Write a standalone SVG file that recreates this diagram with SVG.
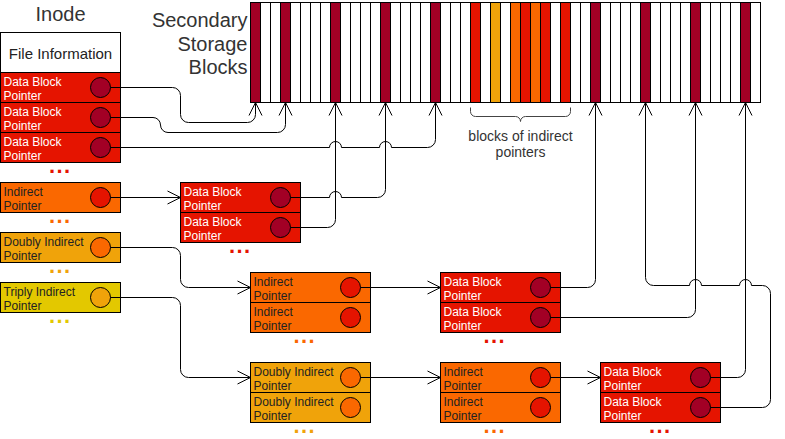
<svg xmlns="http://www.w3.org/2000/svg" width="785" height="439" viewBox="0 0 785 439">
<defs>
<style>
text{font-family:"Liberation Sans",Arial,Helvetica,sans-serif}
.title{font-size:20px;fill:#333}
.lbl{font-size:12px}
.w{fill:#fff}
.d{fill:#222}
.box{stroke:#000;stroke-width:1}
.db{fill:#e51400}
.ind{fill:#fa6800}
.dbl{fill:#f0a30a}
.tri{fill:#e3c800}
.cdb{fill:#a20025;stroke:#000}
.cind{fill:#e51400;stroke:#000}
.cdbl{fill:#fa6800;stroke:#000}
.ctri{fill:#f0a30a;stroke:#000}
.dots{font-size:22px;font-weight:bold;letter-spacing:1.4px}
.edge{fill:none;stroke:#000;stroke-width:1}
.cell{stroke:#000;stroke-width:1}
</style>
<marker id="arr" markerUnits="userSpaceOnUse" markerWidth="16" markerHeight="16" viewBox="0 0 16 16" refX="14" refY="7" orient="auto" overflow="visible">
<path d="M1,0.5 L14,7 L1,13.5" fill="none" stroke="#000" stroke-width="1"/>
</marker>
</defs>
<rect x="0" y="0" width="785" height="439" fill="#fff"/>
<g transform="translate(0.5,0.5)">
<text class="title" x="60" y="20" text-anchor="middle">Inode</text>
<g class="title" text-anchor="end">
<text class="title" x="247" y="26.5">Secondary</text>
<text class="title" x="247" y="50">Storage</text>
<text class="title" x="247" y="73.5">Blocks</text>
</g>

<g id="storage">
<rect x="250" y="2" width="510" height="100" fill="#fff" class="cell"/>
<g fill="#fff" class="cell">
<rect x="250" y="2" width="10" height="100" fill="#a20025"/>
<rect x="260" y="2" width="10" height="100"/>
<rect x="270" y="2" width="10" height="100"/>
<rect x="280" y="2" width="10" height="100" fill="#a20025"/>
<rect x="290" y="2" width="10" height="100"/>
<rect x="300" y="2" width="10" height="100"/>
<rect x="310" y="2" width="10" height="100"/>
<rect x="320" y="2" width="10" height="100"/>
<rect x="330" y="2" width="10" height="100" fill="#a20025"/>
<rect x="340" y="2" width="10" height="100"/>
<rect x="350" y="2" width="10" height="100"/>
<rect x="360" y="2" width="10" height="100"/>
<rect x="370" y="2" width="10" height="100"/>
<rect x="380" y="2" width="10" height="100" fill="#a20025"/>
<rect x="390" y="2" width="10" height="100"/>
<rect x="400" y="2" width="10" height="100"/>
<rect x="410" y="2" width="10" height="100"/>
<rect x="420" y="2" width="10" height="100"/>
<rect x="430" y="2" width="10" height="100" fill="#a20025"/>
<rect x="440" y="2" width="10" height="100"/>
<rect x="450" y="2" width="10" height="100"/>
<rect x="460" y="2" width="10" height="100"/>
<rect x="470" y="2" width="10" height="100" fill="#e51400"/>
<rect x="480" y="2" width="10" height="100"/>
<rect x="490" y="2" width="10" height="100" fill="#f0a30a"/>
<rect x="500" y="2" width="10" height="100"/>
<rect x="510" y="2" width="10" height="100" fill="#fa6800"/>
<rect x="520" y="2" width="10" height="100" fill="#e51400"/>
<rect x="530" y="2" width="10" height="100" fill="#fa6800"/>
<rect x="540" y="2" width="10" height="100" fill="#e51400"/>
<rect x="550" y="2" width="10" height="100"/>
<rect x="560" y="2" width="10" height="100" fill="#e51400"/>
<rect x="570" y="2" width="10" height="100"/>
<rect x="580" y="2" width="10" height="100"/>
<rect x="590" y="2" width="10" height="100" fill="#a20025"/>
<rect x="600" y="2" width="10" height="100"/>
<rect x="610" y="2" width="10" height="100"/>
<rect x="620" y="2" width="10" height="100"/>
<rect x="630" y="2" width="10" height="100"/>
<rect x="640" y="2" width="10" height="100" fill="#a20025"/>
<rect x="650" y="2" width="10" height="100"/>
<rect x="660" y="2" width="10" height="100"/>
<rect x="670" y="2" width="10" height="100"/>
<rect x="680" y="2" width="10" height="100"/>
<rect x="690" y="2" width="10" height="100" fill="#a20025"/>
<rect x="700" y="2" width="10" height="100"/>
<rect x="710" y="2" width="10" height="100"/>
<rect x="720" y="2" width="10" height="100"/>
<rect x="730" y="2" width="10" height="100"/>
<rect x="740" y="2" width="10" height="100" fill="#a20025"/>
<rect x="750" y="2" width="10" height="100"/>
</g>
</g>

<g id="brace">
<path d="M470,107 V111 A5,5 0 0 0 475,116 H515 A5,5 0 0 1 520,121 A5,5 0 0 1 525,116 H565 A5,5 0 0 0 570,111 V107" fill="none" stroke="#444" stroke-width="1"/>
<text x="520" y="140" text-anchor="middle" font-size="14" fill="#333">blocks of indirect</text>
<text x="520" y="156.5" text-anchor="middle" font-size="14" fill="#333">pointers</text>
</g>

<g id="inode">
<rect x="0" y="32" width="120" height="40" fill="#fff" class="box"/>
<text x="60" y="58" text-anchor="middle" font-size="15" fill="#222">File Information</text>
<rect x="0" y="72" width="120" height="30" class="box db"/>
<rect x="0" y="102" width="120" height="30" class="box db"/>
<rect x="0" y="132" width="120" height="30" class="box db"/>
<circle cx="100" cy="87" r="10" class="cdb"/>
<circle cx="100" cy="117" r="10" class="cdb"/>
<circle cx="100" cy="147" r="10" class="cdb"/>
<g class="lbl w">
<text x="3" y="85">Data Block</text><text x="3" y="99">Pointer</text>
<text x="3" y="115">Data Block</text><text x="3" y="129">Pointer</text>
<text x="3" y="145">Data Block</text><text x="3" y="159">Pointer</text>
</g>
<text class="dots" x="48.5" y="172" fill="#e51400">...</text>
</g>

<g id="inode-indirect">
<rect x="0" y="182" width="120" height="30" class="box ind"/>
<circle cx="100" cy="197" r="10" class="cind"/>
<text class="lbl d" x="3" y="195">Indirect</text><text class="lbl d" x="3" y="209">Pointer</text>
<text class="dots" x="48.5" y="222" fill="#fa6800">...</text>
</g>

<g id="inode-doubly">
<rect x="0" y="232" width="120" height="30" class="box dbl"/>
<circle cx="100" cy="247" r="10" class="cdbl"/>
<text class="lbl d" x="3" y="245">Doubly Indirect</text><text class="lbl d" x="3" y="259">Pointer</text>
<text class="dots" x="48.5" y="272" fill="#f0a30a">...</text>
</g>

<g id="inode-triply">
<rect x="0" y="282" width="120" height="30" class="box tri"/>
<circle cx="100" cy="297" r="10" class="ctri"/>
<text class="lbl d" x="3" y="295">Triply Indirect</text><text class="lbl d" x="3" y="309">Pointer</text>
<text class="dots" x="48.5" y="322" fill="#e3c800">...</text>
</g>

<g id="l1-data">
<rect x="180" y="182" width="120" height="30" class="box db"/>
<rect x="180" y="212" width="120" height="30" class="box db"/>
<circle cx="280" cy="197" r="10" class="cdb"/>
<circle cx="280" cy="227" r="10" class="cdb"/>
<text class="lbl w" x="183" y="195">Data Block</text><text class="lbl w" x="183" y="209">Pointer</text>
<text class="lbl w" x="183" y="225">Data Block</text><text class="lbl w" x="183" y="239">Pointer</text>
<text class="dots" x="228.5" y="252" fill="#e51400">...</text>
</g>

<g id="l1-indirect">
<rect x="250" y="272" width="120" height="30" class="box ind"/>
<rect x="250" y="302" width="120" height="30" class="box ind"/>
<circle cx="350" cy="287" r="10" class="cind"/>
<circle cx="350" cy="317" r="10" class="cind"/>
<text class="lbl d" x="253" y="285">Indirect</text><text class="lbl d" x="253" y="299">Pointer</text>
<text class="lbl d" x="253" y="315">Indirect</text><text class="lbl d" x="253" y="329">Pointer</text>
<text class="dots" x="293" y="342" fill="#fa6800">...</text>
</g>

<g id="l1-doubly">
<rect x="250" y="362" width="120" height="30" class="box dbl"/>
<rect x="250" y="392" width="120" height="30" class="box dbl"/>
<circle cx="350" cy="377" r="10" class="cdbl"/>
<circle cx="350" cy="407" r="10" class="cdbl"/>
<text class="lbl d" x="253" y="375">Doubly Indirect</text><text class="lbl d" x="253" y="389">Pointer</text>
<text class="lbl d" x="253" y="405">Doubly Indirect</text><text class="lbl d" x="253" y="419">Pointer</text>
<text class="dots" x="293" y="432" fill="#f0a30a">...</text>
</g>

<g id="l2-data">
<rect x="440" y="272" width="120" height="30" class="box db"/>
<rect x="440" y="302" width="120" height="30" class="box db"/>
<circle cx="540" cy="287" r="10" class="cdb"/>
<circle cx="540" cy="317" r="10" class="cdb"/>
<text class="lbl w" x="443" y="285">Data Block</text><text class="lbl w" x="443" y="299">Pointer</text>
<text class="lbl w" x="443" y="315">Data Block</text><text class="lbl w" x="443" y="329">Pointer</text>
<text class="dots" x="483" y="342" fill="#e51400">...</text>
</g>

<g id="l2-indirect">
<rect x="440" y="362" width="120" height="30" class="box ind"/>
<rect x="440" y="392" width="120" height="30" class="box ind"/>
<circle cx="540" cy="377" r="10" class="cind"/>
<circle cx="540" cy="407" r="10" class="cind"/>
<text class="lbl d" x="443" y="375">Indirect</text><text class="lbl d" x="443" y="389">Pointer</text>
<text class="lbl d" x="443" y="405">Indirect</text><text class="lbl d" x="443" y="419">Pointer</text>
<text class="dots" x="483" y="432" fill="#fa6800">...</text>
</g>

<g id="l3-data">
<rect x="600" y="362" width="120" height="30" class="box db"/>
<rect x="600" y="392" width="120" height="30" class="box db"/>
<circle cx="700" cy="377" r="10" class="cdb"/>
<circle cx="700" cy="407" r="10" class="cdb"/>
<text class="lbl w" x="603" y="375">Data Block</text><text class="lbl w" x="603" y="389">Pointer</text>
<text class="lbl w" x="603" y="405">Data Block</text><text class="lbl w" x="603" y="419">Pointer</text>
<text class="dots" x="648.5" y="432" fill="#e51400">...</text>
</g>

<g id="connectors" class="edge" marker-end="url(#arr)">
<path class="edge" marker-end="url(#arr)" d="M110,87 H172 A8,8 0 0 1 180,95 V114 A8,8 0 0 0 188,122 H247 A8,8 0 0 0 255,114 V102"/>
<path class="edge" marker-end="url(#arr)" d="M110,117 H152.5 A7.5,7.5 0 0 1 160,124.5 A7.5,7.5 0 0 0 167.5,132 H277 A8,8 0 0 0 285,124 V102"/>
<path class="edge" marker-end="url(#arr)" d="M110,147 H329 A6,6 0 0 1 341,147 H379 A6,6 0 0 1 391,147 H427 A8,8 0 0 0 435,139 V102"/>
<path class="edge" marker-end="url(#arr)" d="M290,197 H329 A6,6 0 0 1 341,197 H377 A8,8 0 0 0 385,189 V102"/>
<path class="edge" marker-end="url(#arr)" d="M290,227 H327 A8,8 0 0 0 335,219 V102"/>
<path class="edge" marker-end="url(#arr)" d="M550,287 H587 A8,8 0 0 0 595,279 V102"/>
<path class="edge" marker-end="url(#arr)" d="M550,317 H687 A8,8 0 0 0 695,309 V102"/>
<path class="edge" marker-end="url(#arr)" d="M710,377 H737 A8,8 0 0 0 745,369 V102"/>
<path class="edge" marker-end="url(#arr)" d="M710,407 H762 A8,8 0 0 0 770,399 V293 A8,8 0 0 0 762,285 H751 A6,6 0 0 0 739,285 H701 A6,6 0 0 0 689,285 H653 A8,8 0 0 1 645,277 V102"/>
<path class="edge" marker-end="url(#arr)" d="M110,197 H180"/>
<path class="edge" marker-end="url(#arr)" d="M110,247 H172 A8,8 0 0 1 180,255 V279 A8,8 0 0 0 188,287 H250"/>
<path class="edge" marker-end="url(#arr)" d="M110,297 H172 A8,8 0 0 1 180,305 V369 A8,8 0 0 0 188,377 H250"/>
<path class="edge" marker-end="url(#arr)" d="M360,287 H440"/>
<path class="edge" marker-end="url(#arr)" d="M360,377 H440"/>
<path class="edge" marker-end="url(#arr)" d="M550,377 H600"/>
</g>
</g>
</svg>
